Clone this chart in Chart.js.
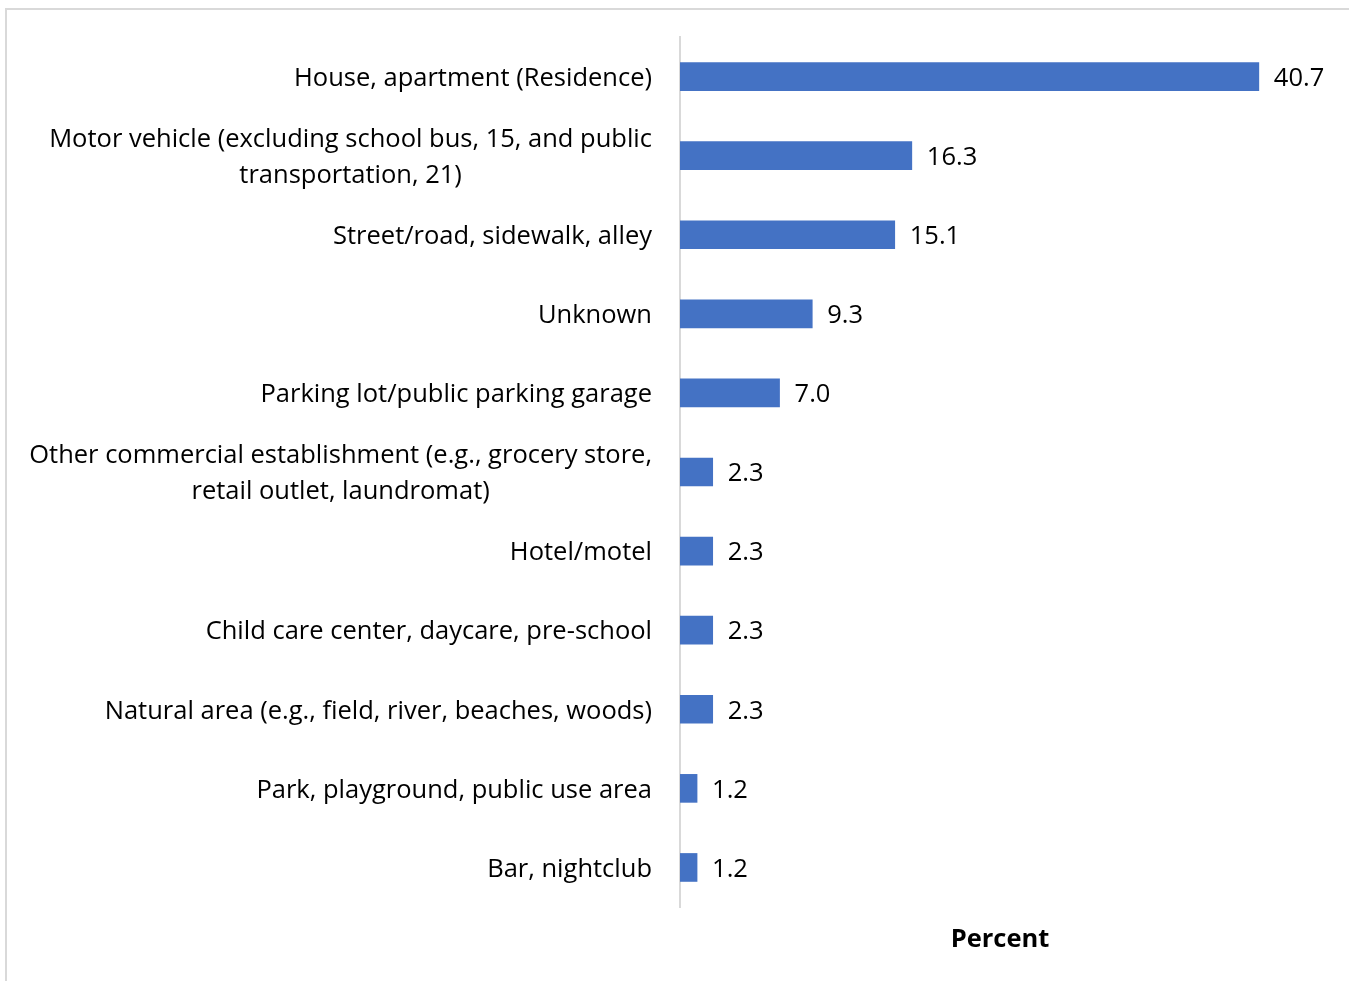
<!DOCTYPE html>
<html>
<head>
<meta charset="utf-8">
<script src="https://cdn.jsdelivr.net/npm/chart.js@4"></script>
<style>
    html, body { margin: 0; padding: 0; background: #fff; overflow: hidden; }
    .frame {
        position: absolute; left: 5px; top: 8px; width: 1400px; height: 1000px;
        border-left: 2px solid #d9d9d9; border-top: 2px solid #d9d9d9;
    }
    #placeChart { position: absolute; left: 0; top: 0; }
</style>
</head>
<body>
<div class="frame"></div>
<canvas id="placeChart" width="1349" height="981"></canvas>
<script>
const categories = [
    ['House, apartment (Residence)'],
    ['Motor vehicle (excluding school bus, 15, and public', 'transportation, 21)'],
    ['Street/road, sidewalk, alley'],
    ['Unknown'],
    ['Parking lot/public parking garage'],
    ['Other commercial establishment (e.g., grocery store,', 'retail outlet, laundromat)'],
    ['Hotel/motel'],
    ['Child care center, daycare, pre-school'],
    ['Natural area (e.g., field, river, beaches, woods)'],
    ['Park, playground, public use area'],
    ['Bar, nightclub']
];
const percents = [40.7, 16.3, 15.1, 9.3, 7.0, 2.3, 2.3, 2.3, 2.3, 1.2, 1.2];
const axisTitle = 'Percent';

const FONT = '"Open Sans", Lato, sans-serif';
const FONT_SIZE = 25.5;

// category labels: block right-aligned, lines centered within the block
const categoryLabels = {
    id: 'categoryLabels',
    afterDraw(chart) {
        const c = chart.ctx;
        const y = chart.scales.y;
        c.save();
        c.font = FONT_SIZE + 'px ' + FONT;
        c.fillStyle = '#000';
        c.textBaseline = 'middle';
        c.textAlign = 'center';
        const rightEdge = chart.chartArea.left - 28;
        categories.forEach((lines, i) => {
            const widest = Math.max(...lines.map(l => c.measureText(l).width));
            const cx = rightEdge - widest / 2;
            const yc = y.getPixelForTick(i) + 2;
            const lh = 36;
            lines.forEach((line, j) => {
                c.fillText(line, cx, yc + (j - (lines.length - 1) / 2) * lh);
            });
        });
        c.restore();
    }
};

// value labels at the end of each bar
const valueLabels = {
    id: 'valueLabels',
    afterDatasetsDraw(chart) {
        const c = chart.ctx;
        const meta = chart.getDatasetMeta(0);
        c.save();
        c.font = FONT_SIZE + 'px ' + FONT;
        c.fillStyle = '#000';
        c.textBaseline = 'middle';
        c.textAlign = 'left';
        meta.data.forEach((bar, i) => {
            c.fillText(percents[i].toFixed(1), bar.x + 15, bar.y + 2);
        });
        c.restore();
    }
};

new Chart(document.getElementById('placeChart'), {
    type: 'bar',
    data: {
        labels: categories,
        datasets: [{
            data: percents,
            backgroundColor: '#4472C4',
            barThickness: 28
        }]
    },
    options: {
        indexAxis: 'y',
        responsive: false,
        animation: false,
        layout: { padding: { top: 37, right: 29, left: 0, bottom: 0 } },
        plugins: { legend: { display: false }, tooltip: { enabled: false } },
        scales: {
            x: {
                min: 0,
                max: 45,
                grid: { display: false },
                border: { display: false },
                ticks: { display: false },
                title: {
                    display: true,
                    text: axisTitle,
                    color: '#000',
                    font: { family: FONT, size: FONT_SIZE, weight: 'bold' },
                    padding: { top: 0, bottom: 26 }
                },
                afterFit(scale) { scale.height = 74; }
            },
            y: {
                grid: { display: false, drawTicks: false },
                border: { display: true, color: '#d9d9d9', width: 2 },
                ticks: { display: false },
                afterFit(scale) { scale.width = 680; }
            }
        }
    },
    plugins: [categoryLabels, valueLabels]
});
</script>
</body>
</html>
